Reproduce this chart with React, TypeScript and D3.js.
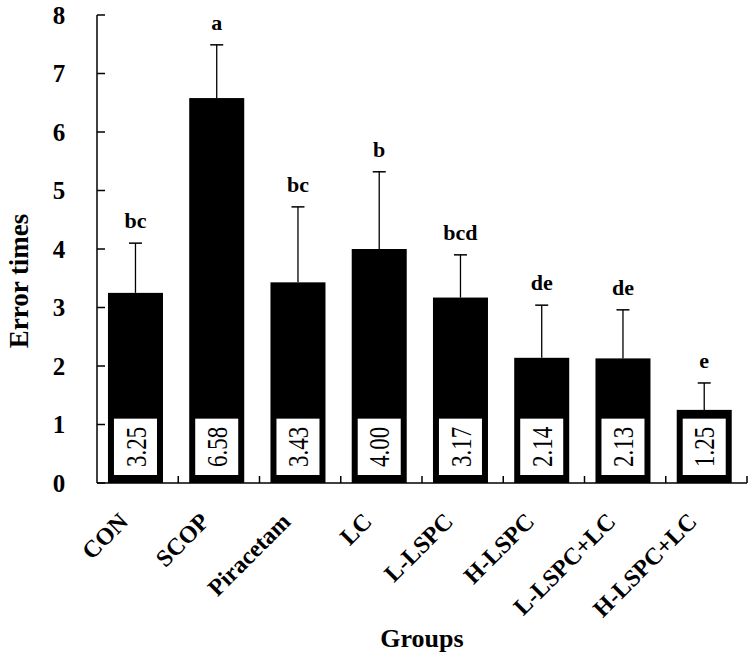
import React from "react";
import * as d3 from "d3";

const categories = ["CON", "SCOP", "Piracetam", "LC", "L-LSPC", "H-LSPC", "L-LSPC+LC", "H-LSPC+LC"];
const means = [3.25, 6.58, 3.43, 4.0, 3.17, 2.14, 2.13, 1.25];
const errors = [0.85, 0.91, 1.29, 1.32, 0.73, 0.9, 0.83, 0.46];
const letters = ["bc", "a", "bc", "b", "bcd", "de", "de", "e"];
const yTicks = [0, 1, 2, 3, 4, 5, 6, 7, 8];

const W = 754;
const H = 659;
const left = 97;
const right = 747;
const top = 15;
const bottom = 483;
const font = "'Liberation Serif', 'Times New Roman', 'DejaVu Serif', serif";

export default function App() {
  const x = d3.scaleBand<string>().domain(categories).range([left, right]).padding(0);
  const y = d3.scaleLinear().domain([0, 8]).range([bottom, top]);
  const bw = x.bandwidth();
  const barOffset = bw * 0.135;
  const barW = bw * 0.677;
  const boxTop = y(1.1);
  const boxBottom = y(0) - 8;

  return (
    <svg width={W} height={H} style={{ position: "absolute", left: 0, top: 0, background: "#fff" }}>
      {categories.map((c, i) => {
        const bx = (x(c) as number) + barOffset;
        const cx = bx + barW / 2;
        const yTop = y(means[i]);
        const yErr = y(means[i] + errors[i]);
        return (
          <g key={c}>
            <line x1={cx} x2={cx} y1={yTop} y2={yErr} stroke="#000" strokeWidth={1.3} />
            <line x1={cx - 6.5} x2={cx + 6.5} y1={yErr} y2={yErr} stroke="#000" strokeWidth={1.5} />
            <rect x={bx} y={yTop} width={barW} height={bottom - yTop} fill="#000" />
            <rect x={bx + 6} y={boxTop} width={barW - 12} height={boxBottom - boxTop} fill="#fff" />
            <text
              transform={`translate(${bx + barW / 2},${(boxTop + boxBottom) / 2}) rotate(-90) scale(1,1.3)`}
              textAnchor="middle"
              dominantBaseline="central"
              style={{ fontFamily: "'Times New Roman', 'Liberation Serif', serif", fontWeight: 400 }}
              fontSize={23}
              fill="#000"
            >
              {means[i].toFixed(2)}
            </text>
            <text x={cx} y={yErr - 15} textAnchor="middle" fontFamily={font} fontSize={22} fontWeight="bold" fill="#000">
              {letters[i]}
            </text>
            <text
              transform={`translate(${cx - 6},${bottom + 40}) rotate(-45)`}
              textAnchor="end"
              fontFamily={font}
              fontSize={24}
              fontWeight="bold"
              fill="#000"
            >
              {c}
            </text>
          </g>
        );
      })}
      <line x1={left} x2={left} y1={top} y2={bottom} stroke="#000" strokeWidth={1.5} />
      <line x1={left} x2={right} y1={bottom} y2={bottom} stroke="#000" strokeWidth={1.5} />
      {yTicks.map((t) => (
        <g key={t}>
          <line x1={left} x2={left + 8} y1={y(t)} y2={y(t)} stroke="#000" strokeWidth={1.5} />
          <text x={59} y={y(t)} textAnchor="middle" dominantBaseline="central" fontFamily={font} fontSize={25} fontWeight="bold" fill="#000">
            {t}
          </text>
        </g>
      ))}
      {categories.map((c) => {
        const tx = (x(c) as number) + bw;
        return <line key={c} x1={tx} x2={tx} y1={bottom} y2={bottom - 7} stroke="#000" strokeWidth={1.5} />;
      })}
      <text
        transform={`translate(19,281) rotate(-90)`}
        textAnchor="middle"
        dominantBaseline="central"
        fontFamily={font}
        fontSize={27}
        fontWeight="bold"
        fill="#000"
      >
        Error times
      </text>
      <text x={(left + right) / 2} y={647} textAnchor="middle" fontFamily={font} fontSize={26} fontWeight="bold" fill="#000">
        Groups
      </text>
    </svg>
  );
}
